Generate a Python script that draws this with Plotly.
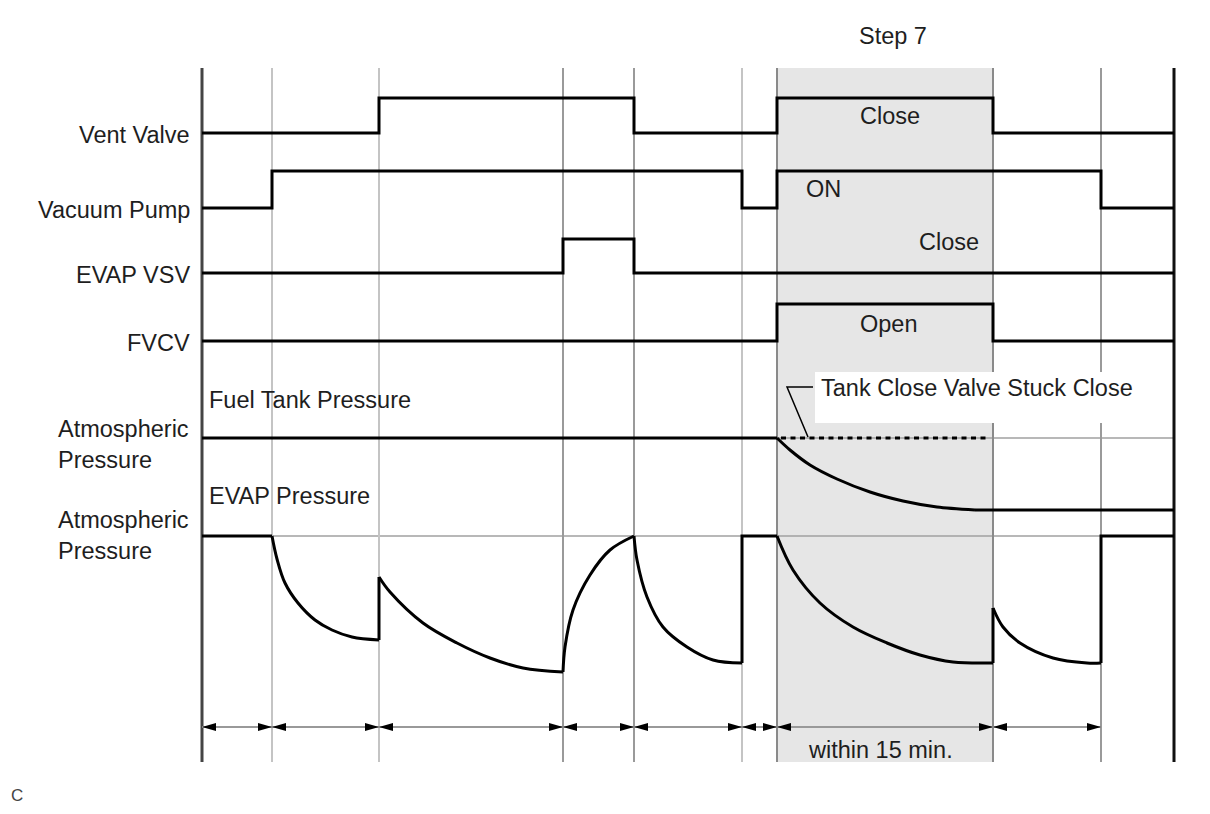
import plotly.graph_objects as go

# ---------------- data ----------------
# boundary instants of the test sequence (time axis units)
event_t = [202, 272, 379, 563, 634, 742, 777, 993, 1101, 1174]

# digital signals: change instants and state after each instant (0 low, 1 high)
vent_t = [202, 379, 634, 777, 993, 1174]
vent_s = [0, 1, 0, 1, 0, 0]
pump_t = [202, 272, 742, 777, 1101, 1174]
pump_s = [0, 1, 0, 1, 0, 0]
vsv_t = [202, 563, 634, 1174]
vsv_s = [0, 1, 0, 0]
fvcv_t = [202, 777, 993, 1174]
fvcv_s = [0, 1, 0, 0]

# fuel tank pressure: drop below atmospheric (diagram units)
fuel_flat_t = [202, 777, None, 975, 1174]
fuel_flat_p = [0, 0, None, 72, 72]
fuel_curve_t = [777, 790, 810, 837, 870, 903, 937, 975]
fuel_curve_p = [0, 12, 27, 41, 54, 63, 69, 72]
stuck_t = [781, 990]
stuck_p = [0, 0]

# EVAP pressure: drop below atmospheric (diagram units)
evap_step_t = [202, 272, None, 379, 379, None, 742, 742, 777, None,
               993, 993, None, 1101, 1101, 1174]
evap_step_p = [0, 0, None, 104, 41, None, 127, 0, 0, None,
               127, 72, None, 127, 0, 0]
evap_curve_t = [272, 277, 285, 298, 315, 332, 352, 379, None,
                379, 390, 423, 457, 490, 523, 563, None,
                563, 565, 573, 590, 610, 634, None,
                634, 637, 647, 663, 687, 713, 742, None,
                777, 793, 820, 853, 887, 920, 953, 993, None,
                993, 1003, 1020, 1053, 1087, 1101]
evap_curve_p = [0, 23, 47, 67, 84, 94, 101, 104, None,
                41, 56, 87, 107, 122, 132, 136, None,
                136, 111, 74, 39, 14, 0, None,
                0, 24, 61, 91, 111, 124, 127, None,
                0, 34, 67, 91, 107, 119, 126, 127, None,
                72, 91, 107, 122, 127, 127]

row_labels = ["Vent Valve", "Vacuum Pump", "EVAP VSV", "FVCV"]
state_labels = ["Close", "ON", "Close", "Open"]
step_label = "Step 7"
duration_label = "within 15 min."
stuck_label = "Tank Close Valve Stuck Close"

# ---------------- layout constants ----------------
PAGE_OFF = 8            # page body margin of the html page
W, H = 1210 - PAGE_OFF, 814 - 2 * PAGE_OFF
TOP, BOTTOM = 68, 762
row_low = [133, 208, 273, 341]
row_high = [98, 171, 239, 304]
FUEL_BASE, EVAP_BASE = 438, 536
ARROW_Y = 727
step_i0, step_i1 = 6, 7  # shaded interval (Step 7)
grid_colors = ["#444444", "#c4c4c4", "#c4c4c4", "#9a9a9a", "#9a9a9a",
               "#c4c4c4", "#8a8a8a", "#8a8a8a", "#9a9a9a", "#111111"]
grid_widths = [3, 2, 2, 2, 2, 2, 2, 2, 2, 3]
FONT = "Liberation Sans, Arial, sans-serif"
TXT = "#1e1e1e"
FS = 23.5

fig = go.Figure()
shapes = []
annotations = []

# shaded Step 7 region
shapes.append(dict(type="rect", xref="x", yref="y", x0=event_t[step_i0], x1=event_t[step_i1],
                   y0=TOP, y1=BOTTOM, fillcolor="#e6e6e6", line=dict(width=0), layer="below"))
# reference lines for atmospheric pressure
for yb in (FUEL_BASE, EVAP_BASE):
    shapes.append(dict(type="line", xref="x", yref="y", x0=event_t[0], x1=event_t[-1],
                       y0=yb, y1=yb, line=dict(color="#a0a0a0", width=1.5), layer="below"))
# vertical event lines
for t, c, w in zip(event_t, grid_colors, grid_widths):
    shapes.append(dict(type="line", xref="x", yref="y", x0=t, x1=t, y0=TOP, y1=BOTTOM,
                       line=dict(color=c, width=w), layer="below"))
# white box behind the stuck-valve label
shapes.append(dict(type="rect", xref="x", yref="y", x0=815, x1=1140, y0=372, y1=423,
                   fillcolor="white", line=dict(width=0), layer="below"))
# duration row line
shapes.append(dict(type="line", xref="x", yref="y", x0=event_t[0], x1=event_t[-2],
                   y0=ARROW_Y, y1=ARROW_Y, line=dict(color="#999999", width=2), layer="below"))
# arrowheads for each interval
AL, AH = 14, 4
for a, b in zip(event_t[:-2], event_t[1:-1]):
    shapes.append(dict(type="path", xref="x", yref="y",
                       path=f"M{a},{ARROW_Y} L{a + AL},{ARROW_Y - AH} L{a + AL},{ARROW_Y + AH} Z",
                       fillcolor="black", line=dict(width=0)))
    shapes.append(dict(type="path", xref="x", yref="y",
                       path=f"M{b},{ARROW_Y} L{b - AL},{ARROW_Y - AH} L{b - AL},{ARROW_Y + AH} Z",
                       fillcolor="black", line=dict(width=0)))
# leader line to stuck annotation
shapes.append(dict(type="path", xref="x", yref="y",
                   path="M813,387 L787,387 L808,437", line=dict(color="black", width=1.5)))

LINE = dict(color="black", width=3)

# digital signals
for (ts, ss), lo, hi in zip([(vent_t, vent_s), (pump_t, pump_s), (vsv_t, vsv_s), (fvcv_t, fvcv_s)],
                            row_low, row_high):
    ys = [lo - s * (lo - hi) for s in ss]
    fig.add_trace(go.Scatter(x=ts, y=ys, mode="lines", line=dict(shape="hv", **LINE),
                             hoverinfo="skip", showlegend=False))

def py(base, vals):
    return [None if v is None else base + v for v in vals]

# fuel tank pressure
fig.add_trace(go.Scatter(x=fuel_flat_t, y=py(FUEL_BASE, fuel_flat_p), mode="lines",
                         line=LINE, hoverinfo="skip", showlegend=False))
fig.add_trace(go.Scatter(x=fuel_curve_t, y=py(FUEL_BASE, fuel_curve_p), mode="lines",
                         line=dict(shape="spline", smoothing=0.8, **LINE), hoverinfo="skip", showlegend=False))
fig.add_trace(go.Scatter(x=stuck_t, y=py(FUEL_BASE, stuck_p), mode="lines",
                         line=dict(color="black", width=3, dash="5px,4.5px"), hoverinfo="skip", showlegend=False))
# EVAP pressure
fig.add_trace(go.Scatter(x=evap_step_t, y=py(EVAP_BASE, evap_step_p), mode="lines",
                         line=LINE, hoverinfo="skip", showlegend=False, connectgaps=False))
fig.add_trace(go.Scatter(x=evap_curve_t, y=py(EVAP_BASE, evap_curve_p), mode="lines",
                         line=dict(shape="spline", smoothing=1, **LINE), hoverinfo="skip",
                         showlegend=False, connectgaps=False))

def ann(text, x, y, xa="center", size=FS, align="left", color=TXT):
    annotations.append(dict(text=text, x=x, y=y, xref="x", yref="y", xanchor=xa, yanchor="middle",
                            showarrow=False, align=align, font=dict(family=FONT, size=size, color=color)))

# row labels
for lab, lo in zip(row_labels, row_low):
    ann(lab, 192, lo + 2, xa="right")
ann("Atmospheric<br>Pressure", 56, FUEL_BASE + 6, xa="left")
ann("Atmospheric<br>Pressure", 56, EVAP_BASE - 1, xa="left")
ann("Fuel Tank Pressure", 207, 400, xa="left")
ann("EVAP Pressure", 207, 496, xa="left")
# state labels
ann(state_labels[0], 890, 116)
ann(state_labels[1], 804, 189, xa="left")
ann(state_labels[2], 949, 242)
ann(state_labels[3], 889, 324)
ann(step_label, 893, 36)
ann(duration_label, 880, 750)
ann(stuck_label, 819, 388, xa="left")
ann("C", 9, 795, xa="left", size=17, color="#444444")

fig.update_layout(
    width=W, height=H, autosize=False,
    margin=dict(l=0, r=0, t=0, b=0),
    paper_bgcolor="white", plot_bgcolor="white",
    xaxis=dict(range=[PAGE_OFF, PAGE_OFF + W], visible=False, fixedrange=True),
    yaxis=dict(range=[PAGE_OFF + H, PAGE_OFF], visible=False, fixedrange=True),
    shapes=shapes, annotations=annotations, showlegend=False,
)
fig.write_html("out.html")
